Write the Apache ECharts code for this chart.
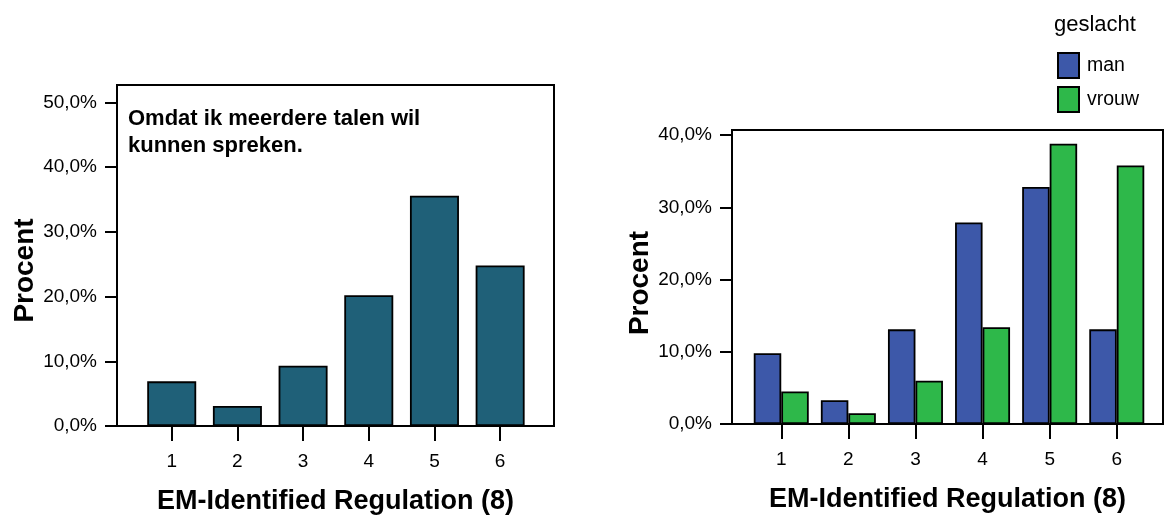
<!DOCTYPE html>
<html>
<head>
<meta charset="utf-8">
<script src="https://cdn.jsdelivr.net/npm/echarts@6/dist/echarts.min.js"></script>
<style>
html,body{margin:0;padding:0;background:#fff;}
#chart{width:1166px;height:520px;}
</style>
</head>
<body>
<div id="chart"></div>
<script>
// ---- data ----
const categories = [1, 2, 3, 4, 5, 6];
const totalPercent = [6.9, 3.1, 9.3, 20.2, 35.6, 24.8];
const manPercent = [9.8, 3.3, 13.1, 27.9, 32.8, 13.1];
const vrouwPercent = [4.5, 1.5, 6.0, 13.4, 38.8, 35.8];
const leftYTicks = [0, 10, 20, 30, 40, 50];
const rightYTicks = [0, 10, 20, 30, 40];
const seriesNames = ['man', 'vrouw'];
const xTitle = 'EM-Identified Regulation (8)';
const yTitle = 'Procent';
const annotation = 'Omdat ik meerdere talen wil\nkunnen spreken.';
const legendTitle = 'geslacht';

const FONT = "'Liberation Sans', Arial, sans-serif";
const pct = v => v.toFixed(1).replace('.', ',') + '%';
const toPairs = vals => categories.map((c, i) => [c, vals[i]]);

function xAxisCfg(idx, min, max) {
  return {
    type: 'value', gridIndex: idx, min: min, max: max,
    splitLine: {show: false},
    axisLine: {show: true, onZero: false, lineStyle: {color: '#000', width: 2}},
    axisTick: {show: true, customValues: categories, length: 15, lineStyle: {color: '#000', width: 2}},
    axisLabel: {show: true, customValues: categories, margin: 26, fontSize: 19, color: '#000', fontFamily: FONT},
    name: xTitle, nameLocation: 'middle', nameGap: 62,
    nameTextStyle: {fontSize: 27, fontWeight: 'bold', color: '#000', fontFamily: FONT}
  };
}
function yAxisCfg(idx, max, ticks, namePad) {
  return {
    type: 'value', gridIndex: idx, min: 0, max: max,
    splitLine: {show: false},
    axisLine: {show: true, lineStyle: {color: '#000', width: 2}},
    axisTick: {show: true, customValues: ticks, length: 12, lineStyle: {color: '#000', width: 2}},
    axisLabel: {show: true, customValues: ticks, margin: 20, fontSize: 19, color: '#000', fontFamily: FONT,
                formatter: pct, padding: [7, 0, 0, 0]},
    name: yTitle, nameLocation: 'middle', nameGap: 78,
    nameTextStyle: {fontSize: 28, fontWeight: 'bold', color: '#000', fontFamily: FONT, padding: [0, namePad, 0, 0]}
  };
}

const chart = echarts.init(document.getElementById('chart'), null, {renderer: 'canvas'});
chart.setOption({
  animation: false,
  backgroundColor: '#fff',
  textStyle: {fontFamily: FONT},
  title: [
    {text: annotation, left: 128, top: 105, padding: 0,
     textStyle: {fontSize: 22, fontWeight: 'bold', color: '#000', lineHeight: 27, fontFamily: FONT}},
    {text: legendTitle, left: 1054, top: 14, padding: 0,
     textStyle: {fontSize: 22, fontWeight: 'normal', color: '#000', fontFamily: FONT}}
  ],
  legend: {
    data: seriesNames, orient: 'vertical', left: 1057, top: 52, padding: 0,
    itemWidth: 21, itemHeight: 25, itemGap: 7, icon: 'rect',
    textStyle: {fontSize: 19.5, color: '#000', fontFamily: FONT, padding: [7, 0, 0, 3]}
  },
  grid: [
    {left: 117, top: 85, right: 612, bottom: 91, show: true, borderColor: '#000', borderWidth: 2, backgroundColor: '#fff'},
    {left: 732, top: 130, right: 3, bottom: 96, show: true, borderColor: '#000', borderWidth: 2, backgroundColor: '#fff'}
  ],
  xAxis: [xAxisCfg(0, 0.167, 6.82), xAxisCfg(1, 0.266, 6.689)],
  yAxis: [yAxisCfg(0, 52.7, leftYTicks, 30), yAxisCfg(1, 40.7, rightYTicks, 12)],
  series: [
    {type: 'bar', name: 'Procent', xAxisIndex: 0, yAxisIndex: 0, barWidth: 49,
     data: toPairs(totalPercent),
     itemStyle: {color: '#1f6078', borderColor: '#000', borderWidth: 1.8}},
    {type: 'bar', name: seriesNames[0], xAxisIndex: 1, yAxisIndex: 1, barWidth: 27.5, barGap: '0%',
     data: toPairs(manPercent),
     itemStyle: {color: '#3d58a9', borderColor: '#000', borderWidth: 1.8}},
    {type: 'bar', name: seriesNames[1], xAxisIndex: 1, yAxisIndex: 1, barWidth: 27.5, barGap: '0%',
     data: toPairs(vrouwPercent),
     itemStyle: {color: '#2eb84a', borderColor: '#000', borderWidth: 1.8}}
  ]
});
</script>
</body>
</html>
